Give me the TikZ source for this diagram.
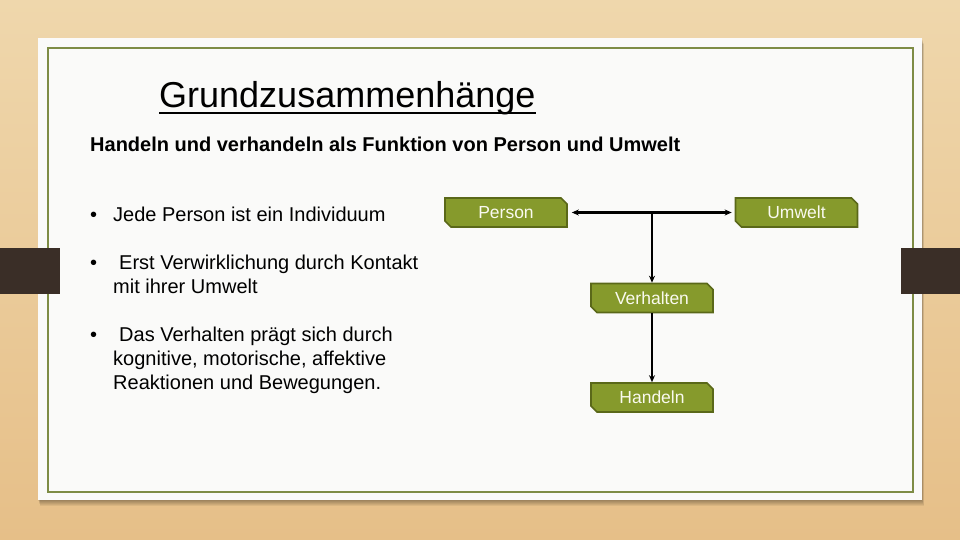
\documentclass[tikz,border=0pt]{standalone}
\usepackage{fontspec}
\setmainfont{Liberation Sans}
\usetikzlibrary{shapes.misc,arrows.meta,calc}
\definecolor{woodA}{HTML}{EFD7AC}
\definecolor{woodB}{HTML}{E6BF88}
\definecolor{paper}{HTML}{FAFAF9}
\definecolor{frameg}{HTML}{7E8C45}
\definecolor{olive}{HTML}{869A2C}
\definecolor{oliveD}{HTML}{5A6819}
\definecolor{tab}{HTML}{3A2E27}
\definecolor{cream}{HTML}{FAFAF0}
\tikzset{
  box/.style={chamfered rectangle, chamfered rectangle corners={north east,south west},
    chamfered rectangle xsep=3pt, chamfered rectangle ysep=3pt,
    fill=olive, draw=oliveD, line width=1.6pt, minimum width=122pt, minimum height=29pt,
    inner sep=0pt, text=cream, font=\fontsize{17.5}{20}\selectfont},
  txt/.style={anchor=base west, inner sep=0pt, font=\fontsize{20}{24}\selectfont},
  conn/.style={line width=2.2pt, -{Stealth[length=7pt,width=6pt]}},
  shad/.style={fill=black, opacity=0.06}
}
\begin{document}
\begin{tikzpicture}[x=1pt,y=-1pt]
\useasboundingbox (0,0) rectangle (960,540);
\shade[top color=woodA, bottom color=woodB] (0,0) rectangle (960,540);
% shadow and paper
\foreach \d in {1,2,3,4,5,6}{\fill[shad] (38+\d*0.3,38+\d) rectangle (922+\d*0.3,500+\d);}
\fill[paper] (38,38) rectangle (922,500);
\draw[frameg, line width=2pt] (48,48) rectangle (913,492);
% tabs
\fill[tab] (0,248) rectangle (60,294);
\fill[tab] (901,248) rectangle (960,294);
% title
\node[anchor=base west, inner sep=0pt, font=\fontsize{36}{40}\selectfont] (title) at (159,108) {Grundzusammenhänge};
\draw[line width=2pt] ([yshift=-5pt]title.base west) -- ([yshift=-5pt]title.base east);
\node[anchor=base west, inner sep=0pt, font=\bfseries\fontsize{20}{24}\selectfont] (sub) at (90,152) {Handeln und verhandeln als Funktion von Person und Umwelt};
% bullets
\node[txt] (b1) at (90,221) {•};
\node[txt] (t1) at (113,221) {Jede Person ist ein Individuum};
\node[txt] (b2) at (90,269) {•};
\node[txt] (t2a) at (119,269) {Erst Verwirklichung durch Kontakt};
\node[txt] (t2b) at (113,293) {mit ihrer Umwelt};
\node[txt] (b3) at (90,341) {•};
\node[txt] (t3a) at (119,341) {Das Verhalten prägt sich durch};
\node[txt] (t3b) at (113,365) {kognitive, motorische, affektive};
\node[txt] (t3c) at (113,389) {Reaktionen und Bewegungen.};
% diagram
\node[box] (person) at (506,212.5) {Person};
\node[box] (umwelt) at (796.5,212.5) {Umwelt};
\node[box] (verh) at (652,298) {Verhalten};
\node[box] (hand) at (652,397.5) {Handeln};
\draw[line width=2.2pt, {Stealth[length=7pt,width=6pt]}-{Stealth[length=7pt,width=6pt]}, shorten <=4pt, shorten >=3pt] (person.east) -- (umwelt.west);
\coordinate (junc) at (verh.north |- person.east);
\draw[conn] (junc) -- (verh.north);
\draw[conn] (verh.south) -- (hand.north);
\end{tikzpicture}
\end{document}
